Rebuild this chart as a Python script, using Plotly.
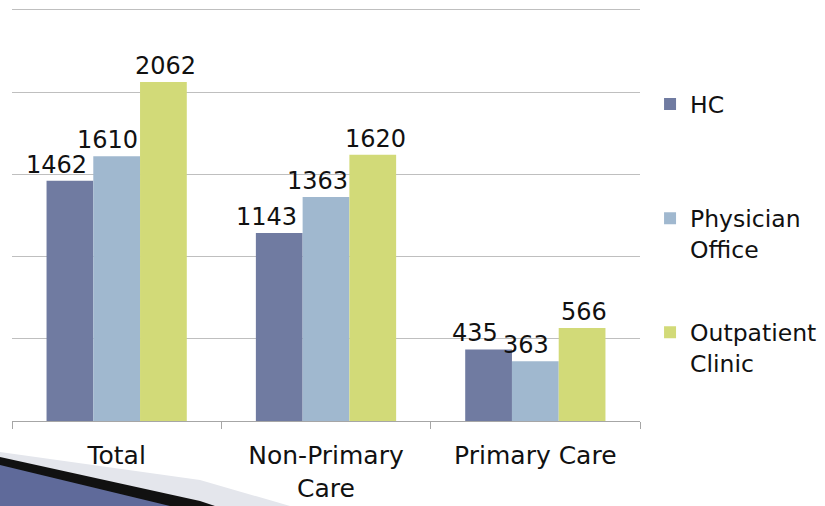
import plotly.graph_objects as go

categories = ["Total", "Non-Primary<br>Care", "Primary Care"]
series_names = ["HC<br> ", "Physician<br>Office", "Outpatient<br>Clinic"]
hc = [1462, 1143, 435]
physician = [1610, 1363, 363]
outpatient = [2062, 1620, 566]
colors = ["#707ba1", "#a0b8cf", "#d2da78"]
label_shift = [-13, -9, 2]

W, H = 825, 506
ML, MR, MT, MB = 12, 185, 8, 85
Y_TOP = 2512
FONT = "DejaVu Sans"
TXT = "#111111"

fig = go.Figure()
series = [hc, physician, outpatient]
for name, vals, col in zip(series_names, series, colors):
    fig.add_trace(go.Bar(
        x=categories, y=vals, name=name,
        marker=dict(color=col, line=dict(width=0)),
        legendgroup=name, hoverinfo="x+y",
    ))

# data labels
for i, vals in enumerate(series):
    for j, v in enumerate(vals):
        fig.add_annotation(
            x=categories[j], y=v, text=str(v), showarrow=False,
            xref="x", yref="y", yanchor="bottom",
            xshift=(i - 1) * 47 + label_shift[i], yshift=0,
            font=dict(family=FONT, size=24, color=TXT),
        )

# decorative slide corner
def px2paper(px, py):
    return (px - ML) / (W - ML - MR), (H - MB - py) / (H - MT - MB)

def path(points):
    pts = [px2paper(x, y) for x, y in points]
    return "M " + " L ".join(f"{x:.4f},{y:.4f}" for x, y in pts) + " Z"

fig.add_shape(type="path", xref="paper", yref="paper", layer="below",
              path=path([(0, 452), (200, 480), (290, 506), (0, 506)]),
              fillcolor="#e4e6ec", line=dict(width=0))
fig.add_shape(type="path", xref="paper", yref="paper", layer="below",
              path=path([(0, 457), (200, 501), (215, 506), (0, 506)]),
              fillcolor="#111111", line=dict(width=0))
fig.add_shape(type="path", xref="paper", yref="paper", layer="below",
              path=path([(0, 465), (170, 506), (0, 506)]),
              fillcolor="#5f6a9a", line=dict(width=0))

fig.update_layout(
    width=W, height=H,
    margin=dict(l=ML, r=MR, t=MT, b=MB, autoexpand=False),
    paper_bgcolor="white", plot_bgcolor="white",
    barmode="group", bargap=0.33, bargroupgap=0,
    font=dict(family=FONT, size=23, color=TXT),
    xaxis=dict(
        showline=True, linecolor="#a6a6a6", linewidth=1,
        ticks="outside", tickson="boundaries", ticklen=7, tickcolor="#a6a6a6",
        tickfont=dict(family=FONT, size=25, color=TXT),
        ticklabelstandoff=12, automargin=False,
        showgrid=False,
    ),
    yaxis=dict(
        range=[0, Y_TOP], dtick=500, showticklabels=False,
        showgrid=True, gridcolor="#bfbfbf", gridwidth=1,
        zeroline=False, showline=False, ticks="", automargin=False,
    ),
    legend=dict(
        x=1.016, y=0.82, xanchor="left", yanchor="top",
        font=dict(family=FONT, size=23.5, color=TXT),
        tracegroupgap=50, valign="top", bgcolor="rgba(0,0,0,0)",
    ),
    showlegend=True,
)

fig.write_html("out.html")
